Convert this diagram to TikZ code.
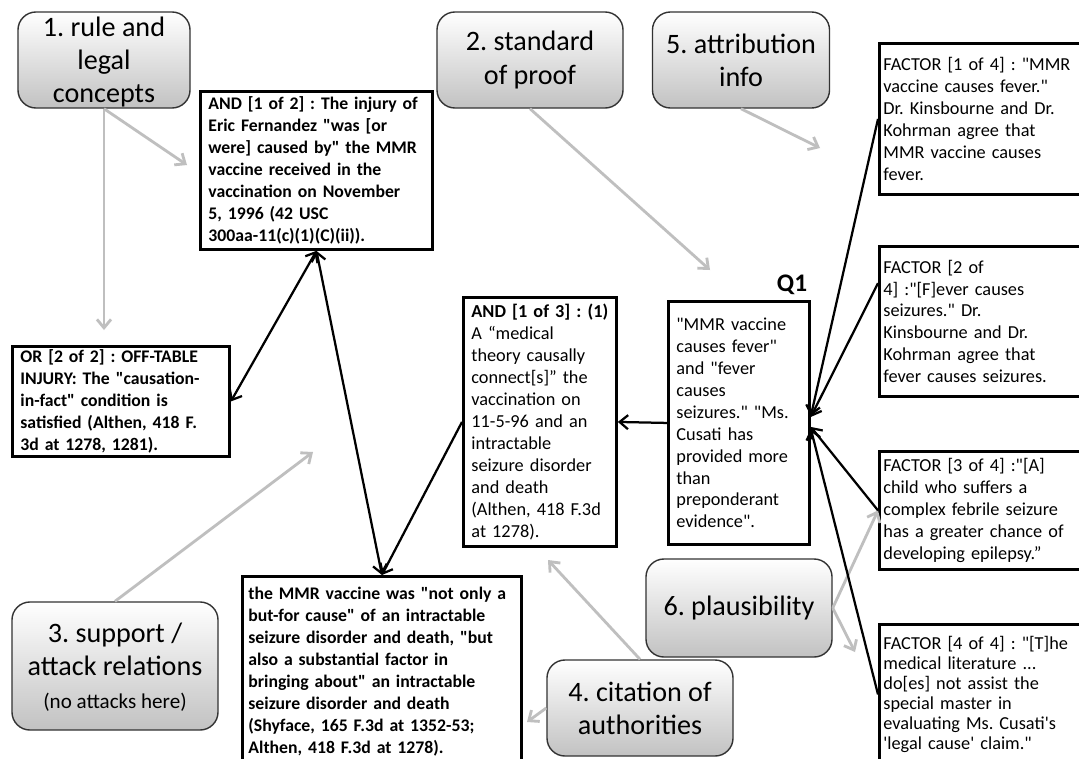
\documentclass[tikz,border=0pt]{standalone}
\usepackage{fontspec}
\setmainfont{Carlito}[Ligatures=TeXOff]
\usetikzlibrary{calc,arrows.meta}

\tikzset{
  >={Straight Barb[length=6pt,width=10pt]},
  catbox/.style={draw=black!80, line width=1pt, rounded corners=0.45cm, top color=white, bottom color=black!24, align=center, inner sep=0pt, font=\fontsize{20}{23.5}\selectfont},
  argbox/.style 2 args={draw=black, line width=2pt, fill=white, anchor=north west, align=left, inner xsep=0.2cm, inner ysep=2pt, text width=#1, minimum height=#2, font=\fontsize{13}{15.6}\selectfont},
  factorbox/.style 2 args={argbox={#1}{#2}, inner xsep=0.1cm},
  boldtext/.style={font=\fontsize{12.6}{15.6}\selectfont\bfseries},
  linkarrow/.style={draw=black, line width=1.6pt, ->},
  catarrow/.style={draw=black!25, line width=2pt, ->},
}

\begin{document}
\frenchspacing
\begin{tikzpicture}[x=0.025cm, y=-0.025cm]
	%%%%% START %%%%%
	\fill[white] (0,0) rectangle (1079,758);
	\useasboundingbox (0,0) rectangle (1079,758);
	
	% category boxes
	\node[catbox, minimum width=4.3cm, minimum height=2.4cm, text depth=0pt] (rule) at (104,60) {1. rule and\\legal\\concepts};
	\node[catbox, minimum width=4.65cm, minimum height=2.4cm] (proof) at (530,60) {2. standard\\of proof};
	\node[catbox, minimum width=4.425cm, minimum height=2.4cm] (attrib) at (741,60) {5. attribution\\info};
	\node[catbox, minimum width=5.15cm, minimum height=3.2cm, text depth=0pt] (rel) at (115,666) {3. support /\\attack relations\\{\fontsize{15}{17}\selectfont (no attacks here)}};
	\node[catbox, minimum width=4.65cm, minimum height=2.45cm] (plaus) at (739,608) {6. plausibility};
	\node[catbox, minimum width=4.65cm, minimum height=2.4cm] (cite) at (640,708) {4. citation of\\authorities};
	
	% argument boxes
	\node[argbox={5.4cm}{3.95cm}, boldtext] (and12) at (199,90) {AND [1 of 2] : The injury of\\Eric Fernandez "was [or\\were] caused by" the MMR\\vaccine received in the\\vaccination on November\\5, 1996 (42 USC\\300aa-11(c)(1)(C)(ii)).};
	\node[argbox={5.025cm}{2.75cm}, boldtext] (or) at (11,345) {OR [2 of 2] : OFF-TABLE\\INJURY: The "causation-\\in-fact" condition is\\satisfied (Althen, 418 F.\\3d at 1278, 1281).};
	\node[argbox={3.425cm}{6.225cm}] (and13) at (462,296) {\textbf{AND [1 of 3] : (1)}\\A “medical\\theory causally\\connect[s]” the\\vaccination on\\11-5-96 and an\\intractable\\seizure disorder\\and death\\(Althen, 418 F.3d\\at 1278).};
	\node[argbox={3.125cm}{6.075cm}] (q1box) at (667,300) {"MMR vaccine\\causes fever"\\and "fever\\causes\\seizures." "Ms.\\Cusati has\\provided more\\than\\preponderant\\evidence".};
	\node[font=\fontsize{18}{20}\selectfont\bfseries] (q1) at (792,285) {Q1};
	\node[argbox={6.675cm}{4.75cm}, boldtext, inner xsep=0.15cm] (mmr) at (241,575) {the MMR vaccine was "not only a\\but-for cause" of an intractable\\seizure disorder and death, "but\\also a substantial factor in\\bringing about" an intractable\\seizure disorder and death\\(Shyface, 165 F.3d at 1352-53;\\Althen, 418 F.3d at 1278).};
	
	% factors
	\node[factorbox={5.1cm}{3.775cm}] (f1) at (878,42) {FACTOR [1 of 4] : "MMR\\vaccine causes fever."\\Dr. Kinsbourne and Dr.\\Kohrman agree that\\MMR vaccine causes\\fever.};
	\node[factorbox={5.1cm}{3.75cm}] (f2) at (878,245) {FACTOR [2 of\\4] :"[F]ever causes\\seizures." Dr.\\Kinsbourne and Dr.\\Kohrman agree that\\fever causes seizures.};
	\node[factorbox={5.1cm}{2.95cm}] (f3) at (878,450) {FACTOR [3 of 4] :"[A]\\child who suffers a\\complex febrile seizure\\has a greater chance of\\developing epilepsy.”};
	\node[factorbox={5.1cm}{3.5cm}, inner ysep=4pt, font=\fontsize{13}{14.3}\selectfont] (f4) at (878,623) {FACTOR [4 of 4] : "[T]he\\medical literature ...\\do[es] not assist the\\special master in\\evaluating Ms. Cusati's\\'legal cause' claim."};
	
	% gray pointers
	\coordinate (ruleA) at (104,330);
	\coordinate (ruleB) at (187,165);
	\coordinate (proofT) at (710,270);
	\coordinate (attribT) at (820,148);
	\coordinate (relT) at (313,452);
	\coordinate (citeA) at (548,560);
	\coordinate (citeB) at (527,722);
	\coordinate (plausB) at (855,652);
	
	\draw[catarrow] (rule.south) -- (ruleA);
	\draw[catarrow] (rule.south) -- (ruleB);
	\draw[catarrow] (proof.south) -- (proofT);
	\draw[catarrow] (attrib.south) -- (attribT);
	\draw[catarrow] (rel.north) -- (relT);
	\draw[catarrow] (cite.north) -- (citeA);
	\draw[catarrow] (cite.west) -- (citeB);
	\draw[catarrow] (plaus.east) -- (f3.west);
	\draw[catarrow] (plaus.east) -- (plausB);
	
	% support links
	\draw[linkarrow] (q1box.west) -- (and13.east);
	\draw[linkarrow] (f1.west) -- ($(q1box.east)+(0,-7)$);
	\draw[linkarrow] ($(f2.north west)!0.25!(f2.south west)$) -- ($(q1box.east)+(0,-6)$);
	\draw[linkarrow] (f3.west) -- ($(q1box.east)+(0,4)$);
	\draw[linkarrow] (f4.west) -- ($(q1box.east)+(0,6)$);
	\draw[linkarrow, <->] (and12.south) -- (or.east);
	\draw[linkarrow, <->] (and12.south) -- (mmr.north);
	\draw[linkarrow] (and13.west) -- (mmr.north);
	%%%%% END %%%%%
\end{tikzpicture}
\end{document}
